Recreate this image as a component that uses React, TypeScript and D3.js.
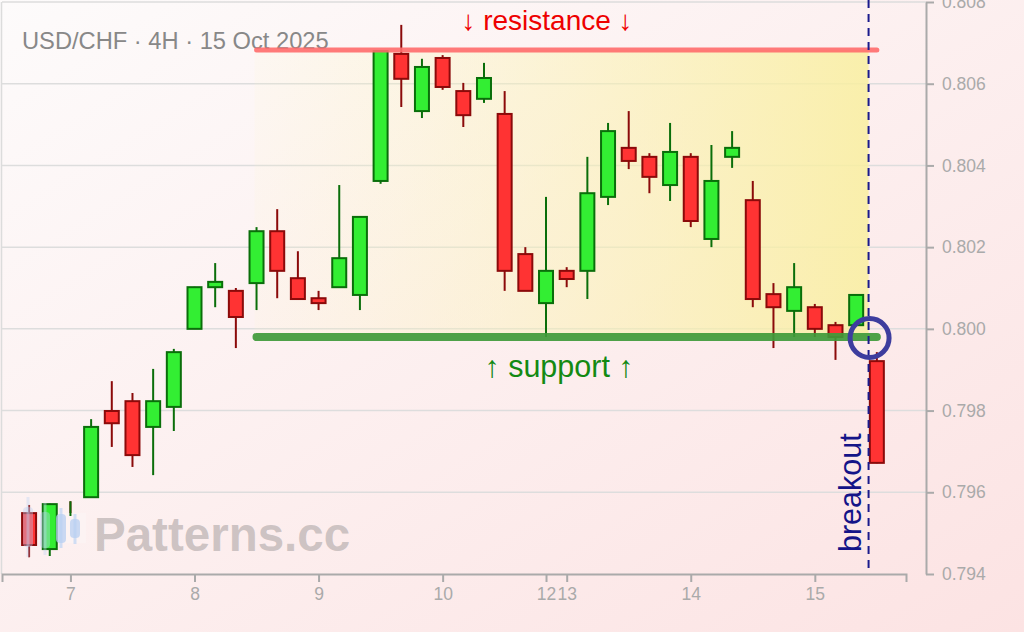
import React, { useEffect, useRef } from 'react';
import * as d3 from 'd3';

// USD/CHF 4H candles (open, high, low, close), one per 4-hour bar
const opens = [
  0.79549, 0.79461, 0.79542, 0.79588, 0.79799, 0.79823, 0.7976, 0.79809, 0.8, 0.80102,
  0.80093, 0.80112, 0.80239, 0.80124, 0.80075, 0.80102, 0.80083, 0.80362, 0.80673, 0.80533,
  0.80663, 0.80582, 0.80563, 0.80526, 0.80183, 0.80063, 0.80142, 0.80142, 0.80323, 0.80443,
  0.80421, 0.80352, 0.80421, 0.8022, 0.80421, 0.80315, 0.80085, 0.80044, 0.80053, 0.80009,
  0.80009, 0.79921,
];
const highs = [
  0.79569, 0.79572, 0.79578, 0.79779, 0.79872, 0.79843, 0.79902, 0.79951, 0.80103, 0.80161,
  0.801, 0.80249, 0.80293, 0.8019, 0.80093, 0.80352, 0.80274, 0.8068, 0.80744, 0.80661,
  0.8067, 0.80602, 0.80651, 0.80582, 0.802, 0.80323, 0.80151, 0.80421, 0.80504, 0.80533,
  0.8043, 0.80504, 0.8043, 0.8045, 0.80484, 0.80362, 0.80112, 0.80161, 0.80061, 0.80017,
  0.80083, 0.79943,
];
const lows = [
  0.79441, 0.79444, 0.7953, 0.79588, 0.79711, 0.79662, 0.79642, 0.7975, 0.8, 0.80053,
  0.79953, 0.80046, 0.80075, 0.80073, 0.80046, 0.80102, 0.80046, 0.80355, 0.80543, 0.80516,
  0.80585, 0.80494, 0.80553, 0.80093, 0.80093, 0.7998, 0.80102, 0.80073, 0.80303, 0.80391,
  0.80332, 0.80313, 0.80249, 0.802, 0.80394, 0.80053, 0.79953, 0.7998, 0.7998, 0.79924,
  0.80009, 0.79671,
];
const closes = [
  0.79471, 0.79571, 0.79536, 0.7976, 0.79769, 0.79691, 0.79823, 0.79943, 0.80102, 0.80115,
  0.80029, 0.80239, 0.80142, 0.80073, 0.80063, 0.80173, 0.80274, 0.8068, 0.80612, 0.80641,
  0.80592, 0.80523, 0.80614, 0.80142, 0.80093, 0.80142, 0.80122, 0.80332, 0.80484, 0.80411,
  0.80372, 0.80433, 0.80264, 0.80362, 0.80443, 0.80073, 0.80053, 0.80102, 0.8, 0.7998,
  0.80083, 0.79672,
];

// day ticks on the bar index axis
const dayTickIndex = [2, 8, 14, 20, 25, 26, 32, 38];
const dayTickLabels = ['7', '8', '9', '10', '12', '13', '14', '15'];
const priceTicks = [0.794, 0.796, 0.798, 0.8, 0.802, 0.804, 0.806, 0.808];

const resistance = 0.806825;
const support = 0.7998;
const zoneStart = 11;
const zoneEnd = 41;
const breakoutIndex = 40.6;

const W = 1024;
const H = 632;

const App: React.FC = () => {
  const svgRef = useRef<SVGSVGElement>(null);

  useEffect(() => {
    if (!svgRef.current) return;
    const svg = d3.select(svgRef.current);
    svg.selectAll('*').remove();

    const font = '"Liberation Sans", Arial, sans-serif';
    const x = d3.scaleLinear().domain([-1.31, 42.41]).range([2, 906]);
    const y = d3.scaleLinear().domain([0.794, 0.808]).range([574, 2]);

    const defs = svg.append('defs');
    const bg = defs.append('linearGradient').attr('id', 'bg')
      .attr('x1', '0%').attr('y1', '0%').attr('x2', '100%').attr('y2', '100%');
    bg.append('stop').attr('offset', '0%').attr('stop-color', '#fdfbfb');
    bg.append('stop').attr('offset', '100%').attr('stop-color', '#fce3e3');

    const zoneGrad = defs.append('linearGradient').attr('id', 'zone')
      .attr('x1', '0%').attr('y1', '0%').attr('x2', '100%').attr('y2', '0%');
    zoneGrad.append('stop').attr('offset', '0%').attr('stop-color', '#fcf6c0').attr('stop-opacity', 0.1);
    zoneGrad.append('stop').attr('offset', '100%').attr('stop-color', '#f9ef9f').attr('stop-opacity', 0.85);

    svg.append('rect').attr('width', W).attr('height', H).attr('fill', 'url(#bg)');

    // frame
    svg.append('line').attr('x1', 2).attr('x2', 926).attr('y1', 2).attr('y2', 2)
      .attr('stroke', '#dcdcdc').attr('stroke-width', 1.5);
    svg.append('line').attr('x1', 1.5).attr('x2', 1.5).attr('y1', 2).attr('y2', 574)
      .attr('stroke', '#dcdcdc').attr('stroke-width', 1.5);

    // horizontal grid
    svg.append('g').selectAll('line')
      .data(priceTicks.slice(1, -1))
      .enter().append('line')
      .attr('x1', 2).attr('x2', 926)
      .attr('y1', d => y(d)).attr('y2', d => y(d))
      .attr('stroke', '#dddddd').attr('stroke-width', 1.5);

    // consolidation zone
    const bx = x(breakoutIndex);
    svg.append('rect')
      .attr('x', x(zoneStart) - 2)
      .attr('y', y(resistance))
      .attr('width', bx - x(zoneStart) + 2)
      .attr('height', y(support) - y(resistance))
      .attr('fill', 'url(#zone)');

    // title
    svg.append('text')
      .attr('x', 22).attr('y', 49)
      .style('font-family', font).style('font-size', '23.7px')
      .attr('fill', '#888888')
      .text('USD/CHF · 4H · 15 Oct 2025');

    // candles
    const idx = d3.range(opens.length);
    const bodyW = 14;
    const candles = svg.append('g').selectAll('g')
      .data(idx)
      .enter().append('g');
    const up = (i: number) => closes[i] >= opens[i];
    candles.append('line')
      .attr('x1', i => x(i)).attr('x2', i => x(i))
      .attr('y1', i => y(highs[i])).attr('y2', i => y(lows[i]))
      .attr('stroke', i => (up(i) ? '#0a6e0a' : '#8b0a0a'))
      .attr('stroke-width', 2);
    candles.append('rect')
      .attr('x', i => x(i) - bodyW / 2)
      .attr('y', i => y(Math.max(opens[i], closes[i])))
      .attr('width', bodyW)
      .attr('height', i => Math.max(1, Math.abs(y(opens[i]) - y(closes[i]))))
      .attr('fill', i => (up(i) ? '#33ee33' : '#ff3333'))
      .attr('stroke', i => (up(i) ? '#0a6e0a' : '#8b0a0a'))
      .attr('stroke-width', 2);

    // watermark logo: small light-blue candles drawn over the first bars
    const logoBars = [
      { cx: 28, top: 497, bottom: 557, bt: 507, bb: 547 },
      { cx: 45, top: 503, bottom: 555, bt: 512, bb: 548 },
      { cx: 61, top: 508, bottom: 548, bt: 514, bb: 543 },
      { cx: 75, top: 514, bottom: 544, bt: 519, bb: 538 },
    ];
    // soft patch hiding the small bar behind the logo
    svg.append('rect').attr('x', 60).attr('y', 513).attr('width', 26).attr('height', 30)
      .attr('fill', '#fcf3f3');
    const logo = svg.append('g');
    logoBars.forEach((b, k) => {
      const op = k < 2 ? 0.4 : 0.75;
      logo.append('line').attr('x1', b.cx).attr('x2', b.cx).attr('y1', b.top).attr('y2', b.bottom)
        .attr('stroke', '#c2d6f4').attr('stroke-width', 3).attr('opacity', op);
      logo.append('rect').attr('x', b.cx - 5).attr('y', b.bt).attr('width', 10).attr('height', b.bb - b.bt)
        .attr('rx', 4).attr('fill', '#b8cff2').attr('opacity', op);
    });
    // upper wick of bar 2 still visible above the logo
    svg.append('line')
      .attr('x1', x(2)).attr('x2', x(2)).attr('y1', y(highs[2])).attr('y2', 516)
      .attr('stroke', '#0a6e0a').attr('stroke-width', 2);

    svg.append('text')
      .attr('x', 94).attr('y', 551)
      .style('font-family', font).style('font-size', '47.5px').style('font-weight', 'bold')
      .attr('fill', '#b9b0b0').attr('fill-opacity', 0.7)
      .text('Patterns.cc');

    // resistance & support
    svg.append('line')
      .attr('x1', x(zoneStart)).attr('x2', x(zoneEnd))
      .attr('y1', y(resistance)).attr('y2', y(resistance))
      .attr('stroke', '#ff6b6b').attr('stroke-opacity', 0.9)
      .attr('stroke-width', 5).attr('stroke-linecap', 'round');
    svg.append('line')
      .attr('x1', x(zoneStart)).attr('x2', x(zoneEnd))
      .attr('y1', y(support)).attr('y2', y(support))
      .attr('stroke', '#3f9a3a').attr('stroke-opacity', 0.92)
      .attr('stroke-width', 8).attr('stroke-linecap', 'round');

    svg.append('text')
      .attr('x', 547).attr('y', 30)
      .attr('text-anchor', 'middle')
      .style('font-family', font).style('font-size', '28px')
      .attr('fill', '#ee0000')
      .text('↓ resistance ↓');
    svg.append('text')
      .attr('x', 559).attr('y', 377)
      .attr('text-anchor', 'middle')
      .style('font-family', font).style('font-size', '30.5px')
      .attr('fill', '#138a13')
      .text('↑ support ↑');

    // breakout marker
    svg.append('line')
      .attr('x1', bx).attr('x2', bx).attr('y1', 0).attr('y2', 574)
      .attr('stroke', '#1a1a8c').attr('stroke-width', 2)
      .attr('stroke-dasharray', '8,6');
    svg.append('circle')
      .attr('cx', bx + 1).attr('cy', y(support) + 1).attr('r', 19.5)
      .attr('fill', 'none').attr('stroke', '#3d3d9e').attr('stroke-width', 5);
    svg.append('text')
      .attr('transform', `translate(${bx - 8},552) rotate(-90)`)
      .style('font-family', font).style('font-size', '30.5px')
      .attr('fill', '#141488')
      .text('breakout');

    // axes
    const xAxis = d3.axisBottom(x)
      .tickValues(dayTickIndex)
      .tickFormat((_d, i) => dayTickLabels[i])
      .tickSize(8).tickSizeOuter(8).tickPadding(6);
    const gx = svg.append('g').attr('transform', 'translate(0,574)').call(xAxis);
    const yAxis = d3.axisRight(y)
      .tickValues(priceTicks)
      .tickFormat(d3.format('.3f'))
      .tickSize(8).tickSizeOuter(0).tickPadding(8);
    const gy = svg.append('g').attr('transform', 'translate(926,0)').call(yAxis);
    [gx, gy].forEach(g => {
      g.select('.domain').attr('stroke', '#aaaaaa').attr('stroke-width', 2);
      g.selectAll('.tick line').attr('stroke', '#aaaaaa').attr('stroke-width', 2);
      g.selectAll('.tick text')
        .attr('fill', '#aaaaaa')
        .style('font-family', font).style('font-size', '17.5px');
    });
  }, []);

  return (
    <div style={{ position: 'absolute', left: 0, top: 0, width: W, height: H }}>
      <svg ref={svgRef} width={W} height={H} style={{ display: 'block' }} />
    </div>
  );
};

export default App;
